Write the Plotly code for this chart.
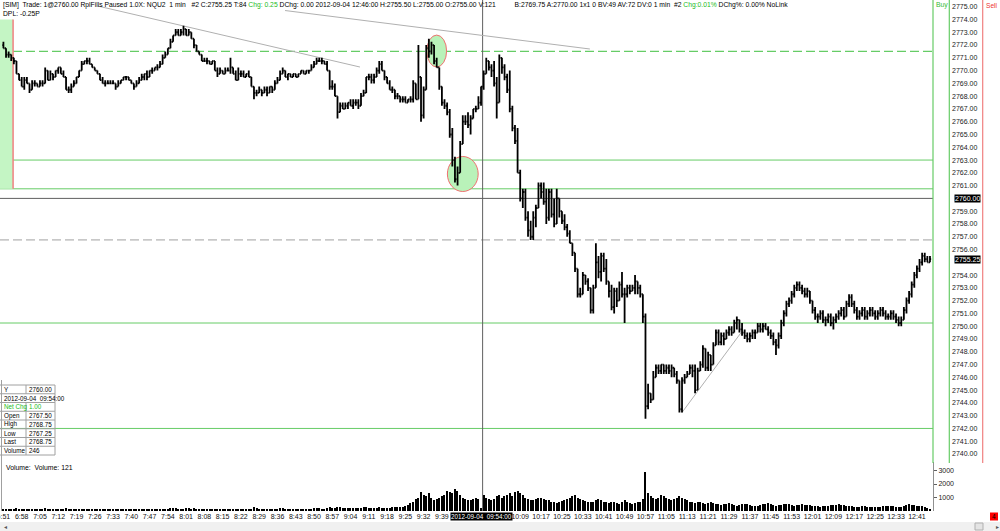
import plotly.graph_objects as go

W, H = 1000, 531

# ---------------- data (1-minute bars of NQU2, 2012-09-04) ----------------
first_bar = "6:51"
first_open = 2772.0
highs = [
 2772.25,2771.5,2771.5,2771.25,2771.0,2770.5,2769.75,2769.5,2769.5,2769.5,
 2769.0,2769.25,2769.25,2769.0,2769.25,2769.25,2770.25,2770.0,2770.0,2769.75,
 2770.0,2770.25,2770.25,2770.0,2769.5,2768.75,2769.0,2769.25,2769.5,2770.0,
 2770.75,2770.75,2771.0,2771.0,2770.5,2770.25,2770.0,2769.75,2769.5,2769.25,
 2769.25,2769.25,2769.25,2769.0,2769.25,2769.25,2769.5,2769.5,2769.5,2769.25,
 2769.0,2769.25,2769.5,2769.75,2769.75,2770.0,2770.0,2770.25,2770.25,2770.5,
 2770.75,2771.25,2771.5,2771.75,2772.5,2772.75,2773.25,2773.25,2773.25,2773.5,
 2773.25,2773.25,2773.0,2772.5,2772.0,2771.5,2771.25,2771.0,2771.0,2770.75,
 2770.75,2770.75,2770.25,2770.25,2770.0,2770.25,2770.25,2771.0,2770.25,2770.0,
 2770.25,2770.0,2770.0,2769.75,2770.0,2769.5,2768.75,2768.5,2768.75,2768.5,
 2768.75,2768.75,2768.75,2768.75,2769.25,2769.5,2770.0,2770.25,2770.0,2769.75,
 2769.75,2769.75,2769.75,2769.75,2770.0,2770.0,2770.0,2770.0,2770.5,2770.75,
 2771.0,2771.0,2771.0,2770.75,2770.75,2770.0,2769.25,2769.0,2768.0,2767.5,
 2767.5,2767.5,2767.5,2767.75,2767.75,2767.75,2767.75,2768.25,2768.5,2769.5,
 2769.75,2769.75,2769.75,2770.25,2770.75,2770.75,2770.0,2769.5,2769.25,2768.75,
 2768.5,2768.25,2768.0,2768.0,2768.0,2767.75,2768.0,2769.25,2769.0,2772.0,
 2769.5,2768.75,2772.0,2772.5,2772.25,2772.0,2771.0,2770.25,2768.75,2767.75,
 2767.5,2767.0,2765.5,2763.25,2762.5,2764.5,2766.5,2766.5,2766.75,2766.5,
 2767.0,2767.25,2768.0,2768.75,2770.0,2771.0,2770.75,2770.5,2770.75,2769.5,
 2771.25,2771.0,2770.5,2769.75,2770.0,2767.25,2765.75,2765.5,2762.25,2760.75,
 2760.75,2759.0,2758.25,2759.0,2759.5,2761.25,2761.25,2761.25,2760.75,2760.75,
 2760.75,2760.0,2760.75,2760.0,2759.0,2758.75,2758.0,2757.5,2756.5,2755.75,
 2754.5,2753.0,2754.25,2754.0,2753.75,2753.0,2753.25,2756.5,2755.5,2755.75,
 2755.75,2755.25,2753.5,2753.25,2753.0,2753.0,2753.5,2754.25,2753.0,2753.25,
 2753.25,2753.25,2754.0,2753.5,2753.25,2752.5,2751.0,2745.5,2744.75,2746.5,
 2747.0,2747.0,2747.0,2747.0,2747.0,2747.0,2747.0,2746.75,2746.5,2745.75,
 2746.0,2746.25,2746.5,2747.0,2747.0,2747.0,2746.75,2747.25,2748.5,2748.25,
 2748.0,2747.75,2748.75,2749.75,2749.75,2749.5,2749.5,2749.75,2750.0,2750.0,
 2750.5,2750.75,2750.5,2750.25,2749.75,2749.5,2749.5,2749.75,2749.75,2750.25,
 2750.25,2750.25,2750.25,2750.0,2749.75,2749.5,2749.0,2749.5,2750.5,2751.25,
 2752.0,2752.25,2752.75,2753.25,2753.5,2753.5,2753.25,2753.0,2753.0,2752.75,
 2752.0,2751.5,2751.0,2751.25,2751.25,2750.75,2751.0,2751.0,2750.75,2751.0,
 2751.25,2751.5,2751.5,2752.0,2752.5,2752.5,2752.0,2751.5,2751.25,2751.5,
 2751.5,2751.25,2751.5,2751.5,2751.25,2751.25,2751.5,2751.5,2751.25,2751.0,
 2751.25,2751.25,2751.0,2750.75,2750.75,2751.5,2752.25,2752.75,2753.5,2754.25,
 2754.75,2755.25,2755.75,2755.75,2755.5,2755.5]
lows = [
 2771.75,2771.0,2771.0,2770.75,2770.5,2769.75,2769.25,2768.75,2768.5,2769.0,
 2768.25,2768.5,2768.75,2768.75,2768.75,2768.75,2769.0,2769.25,2769.25,2769.25,
 2769.5,2769.75,2769.75,2769.5,2768.5,2768.25,2768.25,2768.75,2769.0,2769.5,
 2770.0,2770.5,2770.5,2770.5,2770.25,2770.0,2769.75,2769.25,2769.0,2768.75,
 2769.0,2769.0,2769.0,2768.5,2768.75,2769.0,2769.25,2769.25,2769.25,2769.0,
 2768.5,2768.75,2769.0,2769.25,2769.25,2769.25,2769.5,2769.75,2770.0,2770.0,
 2770.25,2770.5,2771.0,2771.25,2771.75,2772.25,2772.75,2772.75,2772.75,2772.75,
 2772.75,2772.75,2772.5,2771.75,2771.5,2771.25,2770.75,2770.75,2770.5,2770.5,
 2770.5,2770.0,2769.5,2769.75,2769.75,2769.75,2770.0,2769.75,2769.75,2769.25,
 2769.5,2769.5,2769.5,2769.5,2769.5,2768.75,2767.75,2768.0,2768.25,2768.0,
 2768.25,2768.0,2768.25,2768.25,2768.5,2769.0,2769.25,2769.75,2769.5,2769.25,
 2769.5,2769.5,2769.5,2769.5,2769.75,2769.75,2769.75,2769.75,2770.0,2770.25,
 2770.5,2770.75,2770.5,2770.5,2770.0,2768.5,2768.5,2768.0,2766.25,2766.75,
 2767.0,2767.0,2767.0,2767.25,2767.0,2767.25,2767.0,2767.25,2768.0,2768.25,
 2769.25,2769.0,2769.0,2769.5,2769.75,2770.0,2769.25,2769.0,2768.5,2768.25,
 2767.75,2767.75,2767.5,2767.5,2767.5,2767.5,2767.5,2767.5,2767.75,2767.75,
 2766.0,2766.25,2768.5,2771.0,2771.25,2770.5,2770.25,2768.5,2767.25,2767.0,
 2766.5,2764.75,2762.5,2761.25,2761.0,2762.0,2764.25,2765.75,2765.5,2765.0,
 2766.25,2766.75,2767.0,2767.25,2768.5,2769.75,2770.0,2769.5,2768.75,2766.25,
 2767.5,2769.75,2769.25,2768.25,2766.75,2765.25,2764.25,2762.0,2759.75,2759.25,
 2758.25,2757.0,2756.75,2756.75,2757.75,2759.25,2760.0,2759.5,2758.0,2758.25,
 2758.5,2757.75,2758.0,2758.5,2758.0,2757.5,2757.0,2756.5,2755.5,2754.25,
 2752.25,2752.25,2752.5,2753.25,2752.75,2751.0,2751.0,2753.0,2753.75,2753.5,
 2754.25,2753.25,2752.25,2751.25,2751.0,2751.5,2752.0,2752.25,2750.25,2752.25,
 2752.5,2752.75,2752.5,2752.5,2752.25,2750.25,2742.75,2743.5,2744.0,2744.25,
 2746.0,2746.25,2746.25,2746.25,2746.25,2746.25,2746.0,2746.0,2745.5,2743.25,
 2743.25,2745.5,2746.0,2746.25,2746.0,2744.75,2745.0,2746.5,2746.75,2746.5,
 2746.5,2746.5,2747.0,2748.5,2748.5,2748.5,2748.5,2749.0,2749.25,2749.25,
 2749.5,2749.75,2749.5,2749.25,2749.0,2748.75,2748.75,2749.0,2749.0,2749.5,
 2749.5,2749.5,2749.75,2749.25,2749.0,2748.5,2747.75,2748.25,2749.0,2750.0,
 2750.75,2751.5,2751.75,2752.25,2752.75,2752.75,2752.5,2752.25,2752.25,2751.75,
 2751.0,2750.5,2750.25,2750.5,2750.25,2750.0,2750.25,2750.0,2749.75,2750.25,
 2750.5,2750.75,2750.5,2750.75,2751.5,2751.5,2751.0,2750.5,2750.5,2750.75,
 2750.5,2750.5,2750.75,2750.75,2750.5,2750.5,2750.75,2750.75,2750.5,2750.5,
 2750.5,2750.5,2750.25,2750.0,2750.0,2750.5,2751.0,2751.75,2752.25,2753.0,
 2753.75,2754.25,2754.75,2755.0,2755.0,2755.0]
closes = [
 2771.75,2771.25,2771.25,2771.0,2770.75,2769.75,2769.25,2768.75,2769.25,2769.0,
 2768.5,2769.0,2769.0,2768.75,2769.0,2769.0,2770.0,2769.25,2769.75,2769.5,
 2770.0,2770.25,2769.75,2769.5,2768.5,2768.5,2768.75,2769.0,2769.5,2770.0,
 2770.5,2770.75,2770.75,2770.5,2770.25,2770.0,2769.75,2769.25,2769.0,2769.0,
 2769.0,2769.0,2769.0,2768.75,2769.0,2769.25,2769.5,2769.5,2769.25,2769.0,
 2768.75,2769.0,2769.25,2769.5,2769.75,2769.5,2770.0,2770.0,2770.25,2770.25,
 2770.5,2771.0,2771.25,2771.75,2772.25,2772.75,2773.0,2772.75,2773.0,2773.25,
 2772.75,2773.0,2772.5,2772.0,2771.5,2771.25,2770.75,2770.75,2770.75,2770.5,
 2770.75,2770.0,2769.75,2770.0,2769.75,2770.0,2770.0,2770.25,2769.75,2769.25,
 2769.75,2769.75,2769.5,2769.75,2769.5,2768.75,2768.25,2768.25,2768.5,2768.25,
 2768.5,2768.25,2768.75,2768.5,2769.0,2769.25,2769.75,2770.0,2769.5,2769.75,
 2769.5,2769.75,2769.5,2769.75,2770.0,2769.75,2770.0,2770.0,2770.25,2770.5,
 2770.75,2770.75,2770.75,2770.5,2770.0,2768.75,2768.75,2768.0,2766.75,2767.25,
 2767.0,2767.25,2767.5,2767.25,2767.5,2767.5,2767.25,2768.0,2768.25,2769.5,
 2769.5,2769.25,2769.5,2770.0,2770.5,2770.0,2769.5,2769.0,2768.5,2768.5,
 2768.0,2768.0,2767.75,2767.75,2767.5,2767.75,2767.75,2769.0,2767.75,2769.5,
 2766.5,2768.5,2771.75,2771.5,2772.0,2770.75,2770.25,2768.75,2767.5,2767.25,
 2766.75,2765.0,2763.0,2761.5,2762.0,2764.25,2766.0,2766.0,2765.75,2766.25,
 2767.0,2767.0,2767.5,2768.75,2769.75,2770.75,2770.25,2770.0,2769.0,2767.5,
 2771.0,2770.25,2769.5,2768.5,2767.0,2765.5,2764.5,2762.0,2760.0,2760.5,
 2758.5,2757.5,2757.0,2758.5,2759.25,2761.0,2760.5,2759.75,2758.5,2760.5,
 2758.75,2758.0,2760.0,2759.0,2758.25,2757.75,2757.25,2756.5,2755.75,2754.5,
 2752.5,2752.5,2754.0,2753.5,2753.0,2751.25,2753.0,2755.0,2754.25,2755.5,
 2754.5,2753.5,2752.75,2751.5,2752.75,2752.0,2753.25,2752.5,2752.5,2753.0,
 2752.75,2753.0,2753.5,2753.0,2752.5,2750.75,2743.75,2744.75,2744.25,2746.0,
 2746.75,2746.5,2747.0,2746.5,2746.75,2746.5,2746.75,2746.25,2745.75,2743.5,
 2745.75,2746.0,2746.25,2746.75,2746.5,2745.0,2746.5,2747.0,2748.25,2746.75,
 2747.75,2747.0,2748.5,2749.5,2748.75,2749.25,2749.0,2749.5,2749.75,2749.5,
 2750.25,2750.5,2749.75,2749.5,2749.25,2749.0,2749.25,2749.5,2749.5,2750.0,
 2749.75,2750.0,2749.75,2749.5,2749.25,2748.75,2748.5,2749.25,2750.25,2751.0,
 2751.75,2752.0,2752.5,2753.0,2753.25,2753.0,2752.75,2752.5,2752.75,2752.0,
 2751.25,2750.75,2750.75,2751.0,2750.5,2750.5,2750.75,2750.25,2750.5,2750.75,
 2751.0,2751.25,2750.75,2751.75,2752.25,2751.75,2751.25,2750.75,2751.0,2751.25,
 2750.75,2751.0,2751.25,2751.0,2750.75,2751.0,2751.25,2751.0,2750.75,2750.75,
 2751.0,2750.75,2750.5,2750.25,2750.5,2751.25,2752.0,2752.5,2753.25,2754.0,
 2754.5,2755.0,2755.5,2755.25,2755.0,2755.25]
volumes = [
 150,90,120,80,110,200,160,130,180,100,170,140,90,120,100,130,210,150,120,110,
 160,130,100,110,190,170,120,100,140,160,180,120,110,100,130,120,150,160,140,100,
 90,110,120,100,150,120,100,90,110,130,100,150,130,110,120,140,130,150,120,130,
 160,170,150,180,200,190,220,180,160,170,190,210,180,200,170,160,150,140,130,120,
 110,150,160,130,120,110,100,170,140,180,160,150,140,130,150,180,260,190,170,160,
 150,140,130,150,160,180,200,190,160,150,140,130,120,140,150,160,150,140,160,200,
 210,190,170,180,200,260,240,230,300,280,250,230,220,200,190,210,200,230,260,280,
 250,230,220,240,260,250,240,230,250,270,300,280,260,300,350,420,600,700,900,1000,
 1400,1200,1100,1300,1000,800,900,1000,1100,1200,1500,1400,1300,1600,1500,1200,1000,900,850,800,
 900,1000,900,246,1200,1000,900,800,900,1100,1200,1000,1100,1200,1300,1100,1400,1500,1300,1200,
 1000,900,850,800,900,1000,950,900,800,850,700,650,600,700,750,800,900,1000,1100,1200,
 1000,900,800,750,700,650,700,800,900,800,700,650,600,700,650,600,550,700,800,700,
 600,550,600,650,700,900,2900,1300,1100,1000,900,1000,1200,1100,1000,900,800,900,1000,1100,
 1000,900,800,700,650,600,700,650,600,550,600,650,600,550,500,450,500,550,600,500,
 450,400,450,500,550,500,450,400,380,400,450,500,550,600,500,450,400,420,450,500,
 550,500,450,400,420,450,500,480,450,420,400,380,350,330,350,380,400,420,450,480,
 500,450,420,400,380,350,330,300,320,340,360,300,280,260,280,300,320,340,360,380,
 400,350,330,300,320,400,450,500,480,420,400,380,360,300,250,121]

time_labels = ["6:51","6:58","7:05","7:12","7:19","7:26","7:33","7:40","7:47","7:54",
               "8:01","8:08","8:15","8:22","8:29","8:36","8:43","8:50","8:57","9:04",
               "9:11","9:18","9:25","9:32","9:39","10:09","10:17","10:25","10:33","10:41",
               "10:49","10:57","11:05","11:13","11:21","11:29","11:37","11:45","11:53","12:01",
               "12:09","12:17","12:25","12:33","12:41"]
price_ticks = [p for p in range(2740, 2776) if p not in (2760, 2755)]
volume_ticks = [1000, 2000, 3000]

green_levels = [2763.0, 2760.75, 2750.25, 2742.0]
green_dashed_level = 2771.5
gray_dashed_level = 2756.75
crosshair_price = 2760.0
crosshair_time = "9:54"
last_price = 2755.25

box_labels = ["Y", "", "Net Chg", "Open", "High", "Low", "Last", "Volume"]
box_values = ["2760.00", "2012-09-04  09:54:00", "1.00", "2767.50", "2768.75", "2767.25", "2768.75", "246"]

# ---------------- helpers ----------------
def tmin(s):
    h, m = s.split(":")
    return int(h) * 60 + int(m)

start = tmin(first_bar)
xs = [start + i for i in range(len(closes))]
opens = [first_open] + closes[:-1]
hi = [max(h, o, c) for h, o, c in zip(highs, opens, closes)]
lo = [min(l, o, c) for l, o, c in zip(lows, opens, closes)]

FONT = "Liberation Sans, Arial, sans-serif"
GREEN = "#66cc66"
X_RANGE = [409.69, 767.16]
Y_RANGE = [2739.374, 2775.524]

def px(x):
    return x / W

def py(y):
    return 1 - y / H

fig = go.Figure()
fig.add_trace(go.Ohlc(
    x=xs, open=opens, high=hi, low=lo, close=closes,
    increasing=dict(line=dict(color="black", width=1.8)),
    decreasing=dict(line=dict(color="black", width=1.8)),
    tickwidth=0.45, hoverinfo="skip", xaxis="x", yaxis="y", showlegend=False))
fig.add_trace(go.Bar(
    x=xs, y=volumes, width=0.45, marker=dict(color="black", line=dict(width=0)),
    hoverinfo="skip", xaxis="x", yaxis="y2", showlegend=False))

shapes = []
shapes.append(dict(type="rect", xref="x", yref="y", x0=409.0, x1=414.7, y0=2760.75, y1=2774.0,
                   fillcolor="#c4f5c4", line=dict(width=0), layer="below"))
shapes.append(dict(type="line", xref="x", yref="y", x0=414.7, x1=414.7, y0=2760.75, y1=2774.0,
                   line=dict(color="#f08080", width=1.5), layer="below"))
shapes.append(dict(type="circle", xref="x", yref="y", x0=573.2, x1=580.8, y0=2770.28, y1=2772.78,
                   fillcolor="#b9f2b9", line=dict(color="#f07070", width=1), layer="below"))
shapes.append(dict(type="circle", xref="x", yref="y", x0=581.1, x1=592.9, y0=2760.54, y1=2763.28,
                   fillcolor="#b9f2b9", line=dict(color="#f07070", width=1), layer="below"))
for lv in green_levels:
    shapes.append(dict(type="line", xref="paper", yref="y", x0=0, x1=0.933, y0=lv, y1=lv,
                       line=dict(color=GREEN, width=1), layer="below"))
shapes.append(dict(type="line", xref="paper", yref="y", x0=0, x1=0.933, y0=green_dashed_level,
                   y1=green_dashed_level, line=dict(color=GREEN, width=1.2, dash="9px,4px"), layer="below"))
shapes.append(dict(type="line", xref="paper", yref="y", x0=0, x1=0.933, y0=gray_dashed_level,
                   y1=gray_dashed_level, line=dict(color="#a0a0a0", width=1, dash="9px,4px"), layer="below"))
shapes.append(dict(type="line", xref="paper", yref="y", x0=0, x1=0.933, y0=crosshair_price,
                   y1=crosshair_price, line=dict(color="#606060", width=1), layer="below"))
ct = tmin(crosshair_time) + 0.6
shapes.append(dict(type="line", xref="x", yref="paper", x0=ct, x1=ct, y0=py(511), y1=1,
                   line=dict(color="#606060", width=1), layer="below"))
for (xa, ya, xb, yb) in [(447.2, 2775.05, 547.6, 2770.28), (518.9, 2774.70, 635.7, 2771.69),
                         (671.0, 2743.25, 694.0, 2749.6)]:
    shapes.append(dict(type="line", xref="x", yref="y", x0=xa, x1=xb, y0=ya, y1=yb,
                       line=dict(color="#b0b0b0", width=1), layer="below"))
for xv, col in [(933, GREEN), (949.3, GREEN), (982.7, "#f08080")]:
    shapes.append(dict(type="line", xref="paper", yref="paper", x0=px(xv), x1=px(xv), y0=py(463), y1=1,
                       line=dict(color=col, width=1.2)))
top, rh = 385, 8.75
for i in range(9):
    shapes.append(dict(type="line", xref="paper", yref="paper", x0=0, x1=px(55),
                       y0=py(top + i * rh), y1=py(top + i * rh), line=dict(color="#a0a0a0", width=1)))
for i in range(8):
    y0, y1 = py(top + i * rh), py(top + (i + 1) * rh)
    shapes.append(dict(type="line", xref="paper", yref="paper", x0=px(55), x1=px(55), y0=y0, y1=y1,
                       line=dict(color="#a0a0a0", width=1)))
    if i != 1:
        shapes.append(dict(type="line", xref="paper", yref="paper", x0=px(26), x1=px(26), y0=y0, y1=y1,
                           line=dict(color="#a0a0a0", width=1)))
shapes.append(dict(type="line", xref="paper", yref="paper", x0=px(1.5), x1=px(1.5), y0=py(511), y1=py(380),
                   line=dict(color="#a0a0a0", width=1)))
shapes.append(dict(type="rect", xref="paper", yref="paper", x0=0, x1=1, y0=0, y1=py(522),
                   fillcolor="#f0f0f0", line=dict(width=0)))
shapes.append(dict(type="rect", xref="paper", yref="paper", x0=px(975), x1=px(983), y0=py(530), y1=py(523),
                   fillcolor="#e4e4e4", line=dict(color="#b0b0b0", width=1)))
shapes.append(dict(type="rect", xref="paper", yref="paper", x0=px(990), x1=px(998), y0=py(520.5), y1=py(512.5),
                   fillcolor="#ff0000", line=dict(width=0)))

ann = []
def text(x, y, s, size=6.75, color="#000", xanchor="left", yanchor="middle", bg=None, xref="paper", yref="paper"):
    d = dict(x=x, y=y, xref=xref, yref=yref, text=s, showarrow=False, xanchor=xanchor, yanchor=yanchor,
             font=dict(family=FONT, size=size, color=color), borderpad=0)
    if bg:
        d["bgcolor"] = bg
    ann.append(d)

GTXT = "#22bb22"
header = ("[SIM]&nbsp; Trade: 1@2760.00 RplFills Paused 1.0X: NQU2&nbsp; 1 min&nbsp;&nbsp; #2 C:2755.25 T:84 "
          "<span style='color:#22bb22'>Chg: 0.25</span> DChg: 0.00 2012-09-04 12:46:00 H:2755.50 L:2755.00 "
          "O:2755.00 V:121&nbsp;&nbsp;&nbsp;&nbsp;&nbsp;&nbsp;&nbsp;&nbsp;&nbsp; B:2769.75 A:2770.00 1x1 0 BV:49 AV:72 "
          "DV:0 1 min&nbsp; #2 <span style='color:#22bb22'>Chg:0.01%</span> DChg%: 0.00% NoLink")
text(px(2), py(4.8), header)
text(px(2), py(13.8), "DPL: -0.25P")
text(px(935), py(5), "Buy", color="#33bb33", size=6.8)
text(px(984.5), py(5.5), "Sell", color="#ee3333", size=6.6)
text(px(954), crosshair_price, "2760.00", color="white", bg="black", yref="y", size=7)
text(px(954), last_price, "2755.25", color="white", bg="black", yref="y", size=7)
text(px(481), py(516.5), "2012-09-04&nbsp;&nbsp;09:54:00", color="white", bg="black", xanchor="center", size=6.3)
text(px(994), py(516.5), "4", color="#000", xanchor="center", size=6.5)
text(px(3), py(526.5), "\u25c2", color="#555", size=6)
text(px(997), py(526.5), "\u25b8", color="#555", size=6, xanchor="center")
text(px(5), py(467.5), "Volume:&nbsp; Volume: 121", size=6.85)
for i, (lab, val) in enumerate(zip(box_labels, box_values)):
    yc = py(top + (i + 0.5) * rh)
    col = GTXT if lab == "Net Chg" else "#000"
    if i == 1:
        text(px(2.5), yc, val.replace("  ", "&nbsp;&nbsp;"), size=6.3)
    else:
        text(px(2.5), yc, lab, size=6.3, color=col)
        text(px(28), yc, val, size=6.3, color=col)

fig.update_layout(
    width=W, height=H, margin=dict(l=0, r=0, t=0, b=0, pad=0, autoexpand=False),
    paper_bgcolor="white", plot_bgcolor="white",
    font=dict(family=FONT, size=7, color="#111"),
    showlegend=False, bargap=0,
    xaxis=dict(domain=[0, 0.933], range=X_RANGE, anchor="y2", type="linear", automargin=False,
               showgrid=False, zeroline=False, showline=False, ticks="", ticklabeloverflow="allow",
               tickmode="array", tickvals=[tmin(t) for t in time_labels], ticktext=time_labels,
               tickfont=dict(size=7, color="#111"), rangeslider=dict(visible=False), fixedrange=True),
    yaxis=dict(domain=[1 - 462 / H, 1], range=Y_RANGE, anchor="free", position=0.951, side="right",
               automargin=False, showgrid=False, zeroline=False, showline=False, ticks="",
               tickmode="array", tickvals=price_ticks, tickformat=".2f",
               tickfont=dict(size=7, color="#222"), fixedrange=True),
    yaxis2=dict(domain=[1 - 511 / H, 1 - 462 / H], range=[0, 3630], anchor="x", side="right",
                automargin=False, showgrid=False, zeroline=False, showline=True, linecolor="#909090",
                linewidth=1, ticks="outside", ticklen=3, tickcolor="#606060",
                tickmode="array", tickvals=volume_ticks, tickfont=dict(size=7, color="#222"), fixedrange=True),
    shapes=shapes, annotations=ann,
)

fig.write_html("out.html", config={"displayModeBar": False},
               post_script="document.body.style.margin='0';document.body.style.overflow='hidden';")
